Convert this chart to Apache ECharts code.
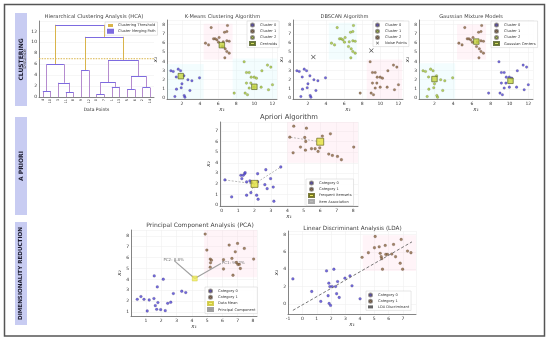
<!DOCTYPE html>
<html><head><meta charset="utf-8">
<script src="https://cdn.jsdelivr.net/npm/echarts@6/dist/echarts.min.js"></script>
<style>html,body{margin:0;padding:0;background:#fff}#c{width:550px;height:341px}</style>
</head><body><div id="c"></div>
<script>
// ---------------- DATA ----------------
const leafLabels = ['4','10','3','11','8','9','12','0','7','1','13','5','6','2','14'];
const linkX = [[5,5,15,15],[35,35,45,45],[25,25,40,40],[10,10,32.5,32.5],[55,55,65,65],[75,75,85,85],[95,95,105,105],[80,80,100,100],[115,115,125,125],[135,135,145,145],[120,120,140,140],[90,90,130,130],[60,60,110,110],[21.25,21.25,85,85]];
const linkY = [[0,1.1,1.1,0],[0,0.85,0.85,0],[0,2.6,2.6,0.85],[1.1,6.0,6.0,2.6],[0,4.9,4.9,0],[0,0.5,0.5,0],[0,1.85,1.85,0],[0.5,2.7,2.7,1.85],[0,1.4,1.4,0],[0,1.7,1.7,0],[1.4,3.8,3.8,1.7],[2.7,6.7,6.7,3.8],[4.9,11.0,11.0,6.7],[6.0,13.2,13.2,11.0]];
const hcaThreshold = 7.0;

const blobLowerLeft = [[0.78,2.97],[1.04,2.9],[1.59,3.15],[1.85,2.97],[1.37,2.3],[2.22,2.42],[2.66,1.99],[3.1,1.88],[3.94,2.2],[2.0,1.55],[1.4,0.97],[1.92,1.12],[2.88,0.83],[1.22,0.17],[2.25,0.28],[2.33,0.1]];
const blobUpper = [[5.23,7.67],[7.03,7.9],[6.7,7.17],[6.96,7.24],[4.6,5.98],[4.94,5.79],[5.49,6.45],[5.67,6.45],[5.86,6.34],[6.04,6.09],[6.56,6.12],[6.96,6.23],[7.22,6.19],[6.48,5.61],[6.78,5.36],[6.96,5.07],[7.22,4.89],[6.74,4.38],[6.11,6.59]];
const blobLowerRight = [[8.87,3.95],[9.13,2.78],[9.43,2.78],[9.65,2.28],[9.98,2.28],[10.23,2.17],[10.83,2.97],[11.45,3.59],[11.82,3.37],[12.0,1.45],[11.56,0.9],[10.75,1.19],[9.98,1.19],[9.43,1.09],[9.61,1.63],[9.13,1.63],[8.98,0.54],[9.24,0.36],[7.77,0.54]];
const kmCentroids = [[1.88,2.39],[6.41,5.76],[10.0,1.23]];
const dbNoise = [[2.6,4.46],[9.0,5.17]];
const gmmCenters = [[2.0,2.07],[6.46,6.15],[10.1,1.88]];

const apCat0 = [[0.2,2.37],[0.61,0.76],[1.17,2.81],[1.31,2.81],[1.4,2.96],[1.43,3.06],[1.23,2.49],[1.52,2.18],[1.72,2.27],[1.84,2.11],[1.78,1.16],[1.52,0.92],[2.19,2.18],[2.19,2.96],[2.13,0.92],[2.22,0.54],[2.69,3.34],[2.63,1.92],[2.77,1.54],[2.98,2.49],[3.14,1.7],[3.18,0.35],[3.6,3.6]];
const apCat1 = [[4.39,7.47],[5.16,7.28],[4.15,6.43],[5.06,6.4],[5.12,6.02],[4.35,4.95],[4.8,5.49],[5.1,5.2],[5.47,5.33],[5.69,5.33],[5.87,5.08],[5.97,5.42],[6.13,6.53],[6.62,6.75],[6.52,4.83],[6.74,4.7],[7.05,4.6],[7.29,4.29],[8.04,5.49]];
const apItemsets = [[2,2],[6,6]];
const apAssocFrom = [[2,2],[2,2],[2,2],[6,6]];
const apAssocTo = [[0.2,2.37],[3.6,3.6],[1.78,1.16],[4.15,6.43]];

const pcaCat0 = [[0.43,2.17],[0.67,2.42],[0.87,2.17],[1.08,1.1],[1.21,2.11],[1.52,2.24],[1.54,4.32],[1.74,3.31],[1.61,1.59],[1.7,1.25],[1.78,1.87],[1.96,1.22],[2.13,4.01],[2.26,1.13],[2.42,1.8],[2.62,1.9],[2.79,2.7],[3.34,2.91],[3.6,2.79]];
const pcaCat1 = [[4.87,8.16],[4.98,6.69],[5.2,5.86],[5.28,5.76],[5.22,5.52],[5.2,5.12],[6.07,5.8],[6.07,4.95],[6.44,7.15],[6.62,5.92],[6.84,6.53],[6.99,7.3],[6.92,5.55],[7.01,5.37],[7.1,5.37],[7.17,5.0],[7.43,6.84],[8.04,5.86],[6.69,4.38]];
const pcaMean = [4.19,4.08];
const pcaLabels = ['PC1: 91.2%','PC2: 8.8%'];
const pcaEnds = [[5.9,5.45],[2.86,5.7]];

const ldaCat0 = [[-0.66,2.89],[0.65,1.44],[1.28,0.3],[1.68,3.81],[1.84,2.4],[1.91,2.01],[2.07,2.01],[1.79,0.95],[1.86,0.07],[1.96,-0.16],[2.19,4.0],[2.31,2.01],[2.38,1.18],[2.45,2.58],[2.56,0.75],[2.96,2.97],[3.31,3.23],[3.45,2.09],[4.01,0.6]];
const ldaCat1 = [[4.15,5.37],[4.59,5.9],[5.01,6.47],[5.06,7.77],[5.34,6.58],[5.41,5.83],[5.48,5.44],[5.52,5.21],[5.57,4.0],[5.76,6.74],[5.8,5.71],[5.92,5.71],[6.22,5.75],[6.34,6.86],[6.48,5.44],[6.8,4.69],[6.87,7.43],[6.97,4.0],[7.31,6.09],[7.55,5.9]];
const ldaLine = [[-0.66,-0.73],[7.62,7.15]];

// ---------------- STYLE ----------------
const FONT = 'DejaVu Sans';
const C_BLUE='#4f45d6', C_BROWN='#8a6743', C_GREEN='#a2c53a', C_CENT='#c6d63c', C_EDGE='#4b5a1a';
const C_GOLD='#d9b44a', C_PURPLE='#7d6be0', C_VLOW='#b58ccf';
const PINK='rgba(255,205,225,0.22)', CYAN='rgba(200,245,250,0.22)';

function valAxis(g, min, max, step, extra){
  const off = v => Math.abs(v/step - Math.round(v/step)) > 1e-9;
  return Object.assign({
    type:'value', gridIndex:g, min, max, minInterval:step, maxInterval:step,
    splitNumber: Math.max(1, Math.round((max-min)/step)),
    axisLine:{show:true, onZero:false, lineStyle:{color:'#555', width:0.7}},
    axisTick:{show:false},
    axisLabel:{fontSize:4.5, color:'#333', margin:2, fontFamily:FONT, showMinLabel:!off(min), showMaxLabel:!off(max)},
    splitLine:{show:true, lineStyle:{color:'#ececec', width:0.5}},
    nameLocation:'middle',
    nameTextStyle:{fontSize:5.5, color:'#333', fontStyle:'italic', fontFamily:FONT}
  }, extra || {});
}
function scatter(name, xi, yi, data, color, size, extra){
  return Object.assign({type:'scatter', name, xAxisIndex:xi, yAxisIndex:yi, data,
    symbol:'circle', symbolSize:size||2.6,
    itemStyle:{color, borderColor:'rgba(40,30,20,0.6)', borderWidth:0.3}}, extra||{});
}
function shade(areas){
  return {silent:true, data: areas.map(a => [{coord:[a[0],a[1]], itemStyle:{color:a[4]}},{coord:[a[2],a[3]]}])};
}
function legendAt(left, top, items){
  return {left, top, orient:'vertical', itemWidth:5, itemHeight:3, itemGap:1.2,
    padding:[1.5,2,1.5,2], backgroundColor:'rgba(255,255,255,0.92)', borderColor:'#cfcfcf', borderWidth:0.5,
    textStyle:{fontSize:3.6, color:'#333', fontFamily:FONT}, selectedMode:false,
    formatter: n => n.replace(/^(DB|GM|PC|LD) /,''), data: items};
}

// HCA segments
const hcaVert = [], hcaHoriz = [];
linkX.forEach((xs,i) => {
  const ys = linkY[i];
  hcaVert.push({coords:[[xs[0],ys[0]],[xs[1],ys[1]]], lineStyle:{color: ys[1] > hcaThreshold ? C_GOLD : C_VLOW}});
  hcaVert.push({coords:[[xs[3],ys[3]],[xs[2],ys[2]]], lineStyle:{color: ys[2] > hcaThreshold ? C_GOLD : C_VLOW}});
  hcaHoriz.push({coords:[[xs[1],ys[1]],[xs[2],ys[2]]]});
});

const NOISE_X = 'path://M1,0 L5,4 L9,0 L10,1 L6,5 L10,9 L9,10 L5,6 L1,10 L0,9 L4,5 L0,1 Z';

const option = {
  animation:false,
  textStyle:{fontFamily:FONT},
  grid:[
    {left:39, top:21, width:115, height:76},
    {left:167, top:20, width:110, height:79},
    {left:293, top:20, width:110, height:79},
    {left:419, top:20, width:114, height:79},
    {left:220, top:122, width:138, height:84},
    {left:131, top:230, width:126, height:86},
    {left:288, top:231, width:128, height:83}
  ],
  xAxis:[
    valAxis(0, 0, 150, 10, {axisLabel:{show:false}, splitLine:{show:false}}),
    {type:'category', gridIndex:0, data:leafLabels, position:'bottom', axisLine:{show:false}, axisTick:{show:false},
      axisLabel:{rotate:90, fontSize:3.5, margin:2, interval:0, color:'#333'}, splitLine:{show:false},
      name:'Data Points', nameLocation:'middle', nameGap:8, nameTextStyle:{fontSize:4.5, color:'#333'}},
    valAxis(1, 0.35, 12.5, 2, {name:'x₁', nameGap:7}),
    valAxis(2, 0.35, 12.5, 2, {name:'x₁', nameGap:7}),
    valAxis(3, 0.35, 12.5, 2, {name:'x₁', nameGap:7}),
    valAxis(4, -0.1, 8.3, 1, {name:'x₁', nameGap:8}),
    valAxis(5, 0.02, 8.26, 1, {name:'x₁', nameGap:8}),
    valAxis(6, -1, 7.9, 1, {name:'x₁', nameGap:8})
  ],
  yAxis:[
    valAxis(0, 0, 13.9, 2, {name:'Distance', nameGap:8, nameTextStyle:{fontSize:4.5, color:'#333'}}),
    valAxis(1, -0.1, 8.5, 1, {name:'x₂', nameGap:6}),
    valAxis(2, -0.1, 8.5, 1, {name:'x₂', nameGap:6}),
    valAxis(3, -0.1, 8.5, 1, {name:'x₂', nameGap:6}),
    valAxis(4, -0.1, 7.87, 1, {name:'x₂', nameGap:7}),
    valAxis(5, 0.64, 8.53, 1, {name:'x₂', nameGap:7}),
    valAxis(6, -1.15, 8.4, 2, {name:'x₂', nameGap:7})
  ],
  legend:[
    legendAt(105, 22, [{name:'Clustering Threshold', icon:'rect', itemStyle:{color:C_GOLD}}, {name:'Cluster Merging Path', icon:'rect', itemStyle:{color:C_PURPLE}}]),
    legendAt(247, 21, [{name:'Cluster 0',icon:'circle'},{name:'Cluster 1',icon:'circle'},{name:'Cluster 2',icon:'circle'},{name:'Centroids',icon:'rect'}]),
    legendAt(373, 21, [{name:'DB Cluster 0',icon:'circle'},{name:'DB Cluster 1',icon:'circle'},{name:'DB Cluster 2',icon:'circle'},{name:'Noise Points',icon:NOISE_X}]),
    legendAt(491, 21, [{name:'GM Cluster 0',icon:'circle'},{name:'GM Cluster 1',icon:'circle'},{name:'GM Cluster 2',icon:'circle'},{name:'Gaussian Centers',icon:'rect'}]),
    legendAt(306, 179, [{name:'Category 0',icon:'circle'},{name:'Category 1',icon:'circle'},{name:'Frequent Itemsets',icon:'rect'},{name:'Item Association',icon:'rect', itemStyle:{color:'#bbb'}}]),
    legendAt(205, 287, [{name:'PC Category 0',icon:'circle'},{name:'PC Category 1',icon:'circle'},{name:'Data Mean',icon:'rect'},{name:'Principal Component',icon:'rect', itemStyle:{color:'#999'}}]),
    legendAt(366, 291, [{name:'LD Category 0',icon:'circle'},{name:'LD Category 1',icon:'circle'},{name:'LDA Discriminant',icon:'rect', itemStyle:{color:'#666'}}])
  ],
  series:[
    // HCA
    {type:'lines', coordinateSystem:'cartesian2d', xAxisIndex:0, yAxisIndex:0, name:'hcaV', data:hcaVert, lineStyle:{width:1, opacity:1}},
    {type:'lines', coordinateSystem:'cartesian2d', xAxisIndex:0, yAxisIndex:0, name:'Cluster Merging Path', data:hcaHoriz, lineStyle:{width:1.2, color:C_PURPLE, opacity:1}},
    {type:'line', name:'Clustering Threshold', xAxisIndex:0, yAxisIndex:0, data:[[0,hcaThreshold],[150,hcaThreshold]], symbol:'none', lineStyle:{color:C_GOLD, width:1, type:[1.5,1.2]}, itemStyle:{color:C_GOLD}},
    // K-Means
    scatter('Cluster 0', 2, 1, blobLowerLeft, C_BLUE, 2.6, {markArea: shade([[0.35,-0.1,4.4,3.7,CYAN],[4.4,4.2,7.6,8.1,PINK],[7.6,-0.1,12.5,4.3,CYAN]])}),
    scatter('Cluster 1', 2, 1, blobUpper, C_BROWN),
    scatter('Cluster 2', 2, 1, blobLowerRight, C_GREEN),
    scatter('Centroids', 2, 1, kmCentroids, C_CENT, 5.5, {symbol:'rect', itemStyle:{color:C_CENT, borderColor:C_EDGE, borderWidth:0.8}}),
    // DBSCAN
    scatter('DB Cluster 0', 3, 2, blobLowerLeft, C_BLUE, 2.6, {markArea: shade([[4.3,4.2,7.4,8.2,CYAN],[8.5,-0.1,12.4,4.2,PINK]])}),
    scatter('DB Cluster 1', 3, 2, blobUpper, C_GREEN),
    scatter('DB Cluster 2', 3, 2, blobLowerRight, C_BROWN),
    scatter('Noise Points', 3, 2, dbNoise, '#111', 4.5, {symbol:NOISE_X, itemStyle:{color:'#111'}}),
    // GMM
    scatter('GM Cluster 0', 4, 3, blobLowerRight, C_BLUE, 2.6, {markArea: shade([[4.4,4.2,7.5,8.0,PINK],[0.35,-0.1,4.2,3.8,CYAN]])}),
    scatter('GM Cluster 1', 4, 3, blobUpper, C_BROWN),
    scatter('GM Cluster 2', 4, 3, blobLowerLeft, C_GREEN),
    scatter('Gaussian Centers', 4, 3, gmmCenters, C_CENT, 5.5, {symbol:'rect', itemStyle:{color:C_CENT, borderColor:C_EDGE, borderWidth:0.8}}),
    // Apriori
    {type:'lines', coordinateSystem:'cartesian2d', xAxisIndex:5, yAxisIndex:4, name:'Item Association',
      data: apAssocFrom.map((f,i)=>({coords:[f, apAssocTo[i]]})), lineStyle:{color:'#aaa', width:0.8, type:[2,1.5], opacity:1}},
    scatter('Category 0', 5, 4, apCat0, C_BLUE, 2.8, {markArea: shade([[4.0,4.0,8.3,7.87,PINK]])}),
    scatter('Category 1', 5, 4, apCat1, C_BROWN, 2.8),
    scatter('Frequent Itemsets', 5, 4, apItemsets, '#e4e23c', 7, {symbol:'rect', itemStyle:{color:'#e4e23c', borderColor:'#5a5a10', borderWidth:0.8}}),
    // PCA
    {type:'lines', coordinateSystem:'cartesian2d', xAxisIndex:6, yAxisIndex:5, name:'Principal Component',
      data: pcaEnds.map((e,i)=>({name:pcaLabels[i], coords:[pcaMean, e]})), lineStyle:{color:'#a0a0a0', width:1.2, opacity:1},
      label:{show:true, position:'end', formatter:'{b}', fontSize:4, color:'#777', distance:1}},
    scatter('PC Category 0', 6, 5, pcaCat0, C_BLUE, 2.8, {markArea: shade([[4.8,4.2,8.26,8.53,PINK]])}),
    scatter('PC Category 1', 6, 5, pcaCat1, C_BROWN, 2.8),
    scatter('Data Mean', 6, 5, [pcaMean], '#f0ee5a', 5, {symbol:'rect', itemStyle:{color:'#f0ee5a', borderColor:'#c8c030', borderWidth:0.5}}),
    // LDA
    {type:'line', name:'LDA Discriminant', xAxisIndex:7, yAxisIndex:6, data:ldaLine, symbol:'none', lineStyle:{color:'#666', width:0.9, type:[3,2]}, itemStyle:{color:'#666'}},
    scatter('LD Category 0', 7, 6, ldaCat0, C_BLUE, 2.8, {markArea: shade([[4.2,3.8,7.9,7.9,PINK]])}),
    scatter('LD Category 1', 7, 6, ldaCat1, C_BROWN, 2.8)
  ],
  graphic:[
    {type:'rect', shape:{x:4.5, y:4.5, width:540, height:331.5}, style:{fill:'none', stroke:'#555', lineWidth:1.5}, silent:true},
    {type:'rect', shape:{x:15, y:13, width:12, height:93}, style:{fill:'#c8ccf2'}},
    {type:'rect', shape:{x:15, y:117, width:12, height:98}, style:{fill:'#c8ccf2'}},
    {type:'rect', shape:{x:15, y:222, width:12, height:103}, style:{fill:'#c8ccf2'}},
    {type:'text', x:21, y:59.5, rotation:Math.PI/2, style:{text:'CLUSTERING', fontSize:6, fontWeight:'bold', fontFamily:FONT, fill:'#1a1a2e', align:'center', verticalAlign:'middle'}},
    {type:'text', x:21, y:166, rotation:Math.PI/2, style:{text:'A PRIORI', fontSize:6, fontWeight:'bold', fontFamily:FONT, fill:'#1a1a2e', align:'center', verticalAlign:'middle'}},
    {type:'text', x:21, y:273.5, rotation:Math.PI/2, style:{text:'DIMENSIONALITY REDUCTION', fontSize:5.6, fontWeight:'bold', fontFamily:FONT, fill:'#1a1a2e', align:'center', verticalAlign:'middle'}},
    {type:'text', x:94, y:16.5, style:{text:'Hierarchical Clustering Analysis (HCA)', fontSize:5.2, fontFamily:FONT, fill:'#444', align:'center', verticalAlign:'middle'}},
    {type:'text', x:222.5, y:17, style:{text:'K-Means Clustering Algorithm', fontSize:5.1, fontFamily:FONT, fill:'#444', align:'center', verticalAlign:'middle'}},
    {type:'text', x:344.5, y:17, style:{text:'DBSCAN Algorithm', fontSize:5.1, fontFamily:FONT, fill:'#444', align:'center', verticalAlign:'middle'}},
    {type:'text', x:471, y:16.7, style:{text:'Gaussian Mixture Models', fontSize:5.1, fontFamily:FONT, fill:'#444', align:'center', verticalAlign:'middle'}},
    {type:'text', x:289, y:117.3, style:{text:'Apriori Algorithm', fontSize:6.8, fontFamily:FONT, fill:'#444', align:'center', verticalAlign:'middle'}},
    {type:'text', x:200, y:225.7, style:{text:'Principal Component Analysis (PCA)', fontSize:6.0, fontFamily:FONT, fill:'#444', align:'center', verticalAlign:'middle'}},
    {type:'text', x:352.5, y:229, style:{text:'Linear Discriminant Analysis (LDA)', fontSize:5.7, fontFamily:FONT, fill:'#444', align:'center', verticalAlign:'middle'}}
  ]
};
const chart = echarts.init(document.getElementById('c'));
chart.setOption(option);
</script></body></html>
